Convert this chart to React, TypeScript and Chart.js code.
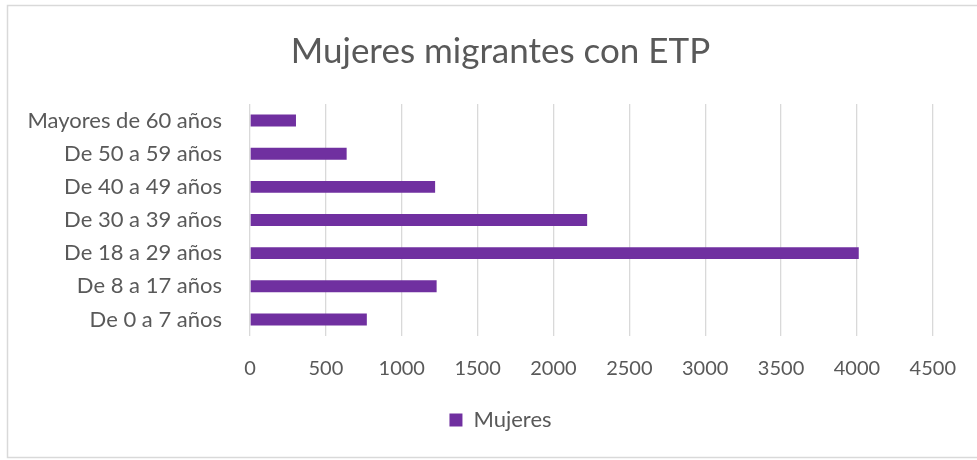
import React, { useEffect, useRef } from "react";
import { Chart, registerables } from "chart.js";

Chart.register(...registerables);

const categories = [
  "De 0 a 7 años",
  "De 8 a 17 años",
  "De 18 a 29 años",
  "De 30 a 39 años",
  "De 40 a 49 años",
  "De 50 a 59 años",
  "Mayores de 60 años",
];
const mujeres = [770, 1230, 4012, 2222, 1220, 637, 303];
const seriesName = "Mujeres";
const titleText = "Mujeres migrantes con ETP";
const xMin = 0;
const xMax = 4500;
const xStep = 500;

const FONT = "Lato";
const TEXT = "#595959";
const GRID = "#d9d9d9";
const BAR = "#7030a0";

const borderPlugin = {
  id: "outerBorder",
  afterLayout(chart: any) {
    const lg = chart.legend;
    if (lg) {
      lg.left += 32;
      lg.right += 32;
    }
    const tt = chart.titleBlock;
    if (tt) {
      tt.left += 32;
      tt.right += 32;
    }
  },
  beforeDraw(chart: any) {
    const ctx = chart.ctx;
    ctx.save();
    ctx.fillStyle = "#ffffff";
    ctx.fillRect(0, 0, chart.width, chart.height);
    ctx.strokeStyle = GRID;
    ctx.lineWidth = 1.5;
    ctx.strokeRect(7.5, 5.5, 1000, 452);
    ctx.restore();
  },
};

export default function App() {
  const ref = useRef<HTMLCanvasElement>(null);
  useEffect(() => {
    if (!ref.current) return;
    const chart = new Chart(ref.current, {
      type: "bar",
      data: {
        labels: categories,
        datasets: [
          {
            label: seriesName,
            data: mujeres,
            backgroundColor: BAR,
            borderWidth: 0,
            categoryPercentage: 1,
            barPercentage: 0.36,
          },
        ],
      },
      options: {
        indexAxis: "y",
        responsive: false,
        animation: false,
        layout: { padding: { top: 0, left: 0, right: 40, bottom: 19 } },
        plugins: {
          title: {
            display: true,
            text: titleText,
            color: TEXT,
            font: { family: FONT, size: 35, weight: "normal" },
            padding: { top: 31, bottom: 31 },
          },
          legend: {
            display: true,
            position: "bottom",
            labels: {
              color: TEXT,
              font: { family: FONT, size: 22 },
              boxWidth: 13,
              boxHeight: 13,
              padding: 10,
            },
          },
          tooltip: { enabled: false },
        },
        scales: {
          x: {
            min: xMin,
            max: xMax,
            ticks: {
              stepSize: xStep,
              color: TEXT,
              font: { family: FONT, size: 20 },
              padding: 21,
              callback: (v: any) => String(v),
            },
            grid: { color: GRID, lineWidth: 1.3, drawTicks: false },
            border: { display: false },
            afterFit(scale: any) {
              scale.height = 63;
            },
          },
          y: {
            reverse: true,
            ticks: {
              color: TEXT,
              font: { family: FONT, size: 22 },
              padding: 28,
            },
            grid: { display: false, drawTicks: false },
            border: { display: false },
            afterFit(scale: any) {
              scale.width = 250;
            },
          },
        },
      },
      plugins: [borderPlugin],
    });
    return () => chart.destroy();
  }, []);
  return (
    <div style={{ position: "fixed", left: 0, top: 0, width: 977, height: 460 }}>
      <canvas ref={ref} width={977} height={460} />
    </div>
  );
}
